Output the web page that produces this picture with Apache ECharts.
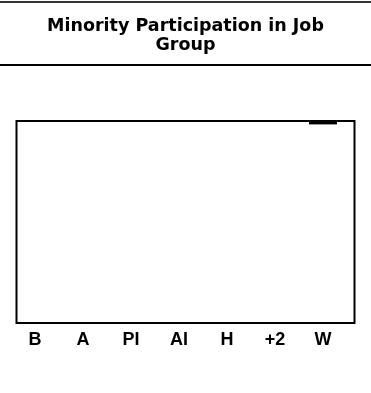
<!DOCTYPE html>
<html>
<head>
<meta charset="utf-8">
<style>
  html, body { margin: 0; padding: 0; background: #fff; }
  #chart { width: 371px; height: 393px; }
</style>
<script src="https://cdn.jsdelivr.net/npm/echarts@6/dist/echarts.min.js"></script>
</head>
<body>
<div id="chart"></div>
<script>
// Race / ethnicity groups shown along the bottom
const categories = ['B', 'A', 'PI', 'AI', 'H', '+2', 'W'];
// Participation (%) per group; bars hang from the top edge
const participation = [0, 0, 0, 0, 0, 0, 1.2];
const chartTitle = 'Minority Participation in Job\nGroup';

const chart = echarts.init(document.getElementById('chart'), null, { renderer: 'canvas' });

chart.setOption({
  animation: false,
  backgroundColor: '#ffffff',
  title: {
    text: chartTitle,
    left: 'center',
    top: 12,
    textStyle: {
      fontFamily: 'DejaVu Sans',
      fontWeight: 'bold',
      fontSize: 17.5,
      lineHeight: 19,
      color: '#000'
    }
  },
  graphic: [
    { type: 'rect', left: 0, top: 1, shape: { width: 371, height: 2 }, style: { fill: '#333' } },
    { type: 'rect', left: 0, top: 64, shape: { width: 371, height: 2 }, style: { fill: '#000' } }
  ],
  grid: [
    // outer frame
    { left: 16.5, right: 16.5, top: 121, bottom: 70, show: true, borderColor: '#000', borderWidth: 2, backgroundColor: 'transparent' },
    // plotting area
    { left: 11, right: 24, top: 122, bottom: 70, containLabel: false }
  ],
  xAxis: {
    gridIndex: 1,
    type: 'category',
    data: categories,
    axisLine: { show: false },
    axisTick: { show: false },
    axisLabel: {
      margin: 8,
      fontFamily: 'Liberation Sans',
      fontWeight: 'bold',
      fontSize: 18,
      color: '#000'
    }
  },
  yAxis: {
    gridIndex: 1,
    type: 'value',
    min: 0,
    max: 100,
    inverse: true,
    show: false,
    splitLine: { show: false }
  },
  series: [{
    type: 'bar',
    xAxisIndex: 0,
    yAxisIndex: 0,
    data: participation,
    barWidth: 28,
    itemStyle: { color: '#000' }
  }]
});
</script>
</body>
</html>
